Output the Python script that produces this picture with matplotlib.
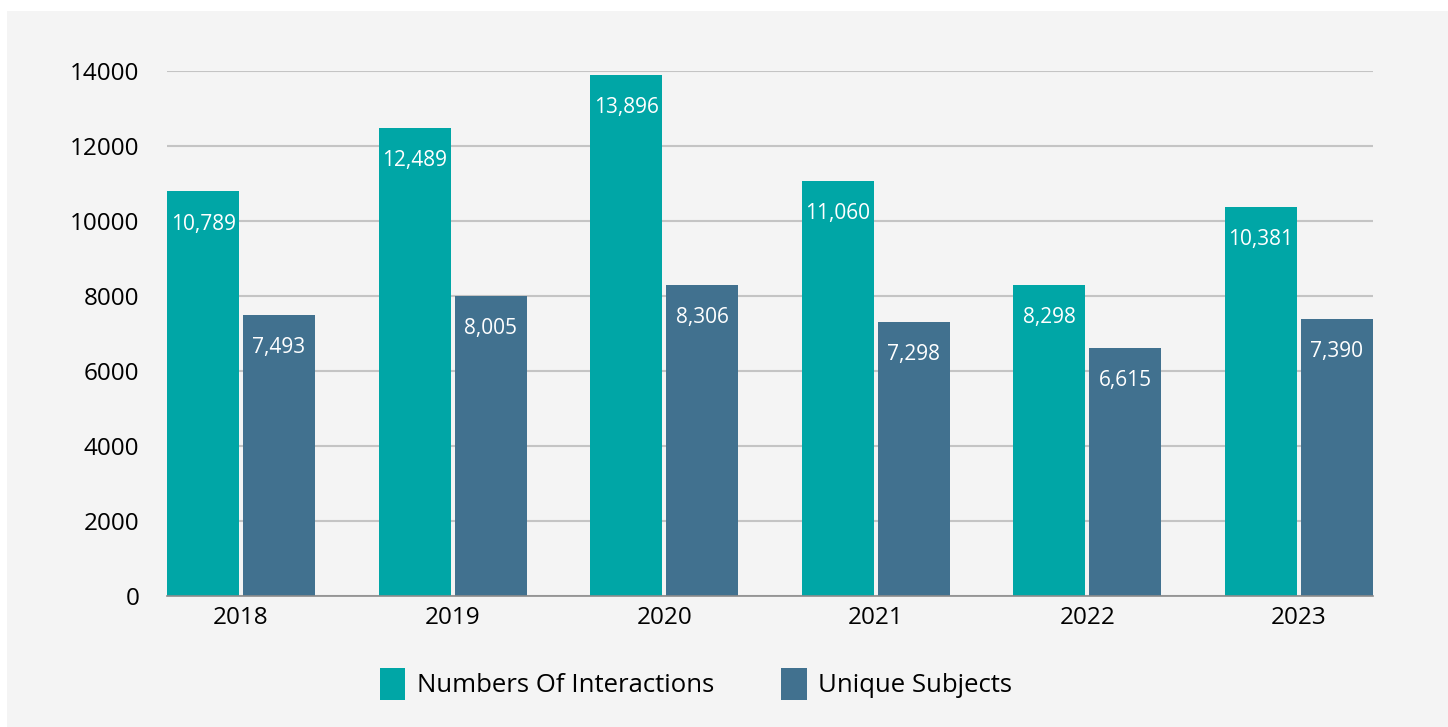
import numpy as np
import matplotlib.pyplot as plt
from matplotlib.patches import Rectangle, Patch

plt.rcParams.update({'font.family': ['Open Sans', 'DejaVu Sans']})

years = ['2018', '2019', '2020', '2021', '2022', '2023']
interactions = [10789, 12489, 13896, 11060, 8298, 10381]
unique_subjects = [7493, 8005, 8306, 7298, 6615, 7390]
series_names = ['Numbers Of Interactions', 'Unique Subjects']
yticks = [0, 2000, 4000, 6000, 8000, 10000, 12000, 14000]

teal = '#00A6A6'
slate = '#41718F'
panel = '#F4F4F4'

W, H = 1448, 727
fig = plt.figure(figsize=(W / 100, H / 100), dpi=100)
fig.patch.set_facecolor('white')

# grey panel behind the chart
fig.patches.append(Rectangle((7 / W, 0), 1 - 7 / W, 1 - 11 / H,
                             transform=fig.transFigure, facecolor=panel,
                             edgecolor='none', zorder=-1))

ax = fig.add_axes([167 / W, 1 - 596 / H, (1373 - 167) / W, (596 - 71) / H])
ax.set_facecolor(panel)

x = np.arange(len(years))
bar_w = 0.34
gap = 0.019
off = (bar_w + gap) / 2

b1 = ax.bar(x - off, interactions, bar_w, color=teal, zorder=3)
b2 = ax.bar(x + off, unique_subjects, bar_w, color=slate, zorder=3)

for bars, vals in ((b1, interactions), (b2, unique_subjects)):
    for rect, v in zip(bars, vals):
        ax.annotate(f'{v:,}', (rect.get_x() + rect.get_width() / 2, v),
                    xytext=(0, -23.5), textcoords='offset points',
                    ha='center', va='center', color='white', fontsize=15,
                    zorder=4)

ax.set_xlim(-0.35, len(years) - 1 + 0.35)
ax.set_ylim(0, 14000)
ax.set_yticks(yticks)
ax.set_yticklabels([str(t) for t in yticks], fontsize=17.5)
ax.set_xticks(x)
ax.set_xticklabels(years, fontsize=17.5)
ax.tick_params(axis='both', length=0)
ax.tick_params(axis='y', pad=20)
ax.tick_params(axis='x', pad=7)

ax.grid(axis='y', color='#C4C4C4', linewidth=1.5, zorder=0)
for s in ['top', 'right', 'left']:
    ax.spines[s].set_visible(False)
ax.spines['bottom'].set_color('#8C8C8C')
ax.spines['bottom'].set_linewidth(1.2)
ax.spines['bottom'].set_zorder(5)

handles = [Patch(facecolor=teal, label=series_names[0]),
           Patch(facecolor=slate, label=series_names[1])]
fig.legend(handles=handles, loc='center', bbox_to_anchor=(696 / W, 1 - 684 / H),
           ncol=2, frameon=False, fontsize=18.5, handlelength=1.0,
           handleheight=1.5, handletextpad=0.45, columnspacing=2.6)

fig.savefig('out.png', dpi=100, facecolor='white')
